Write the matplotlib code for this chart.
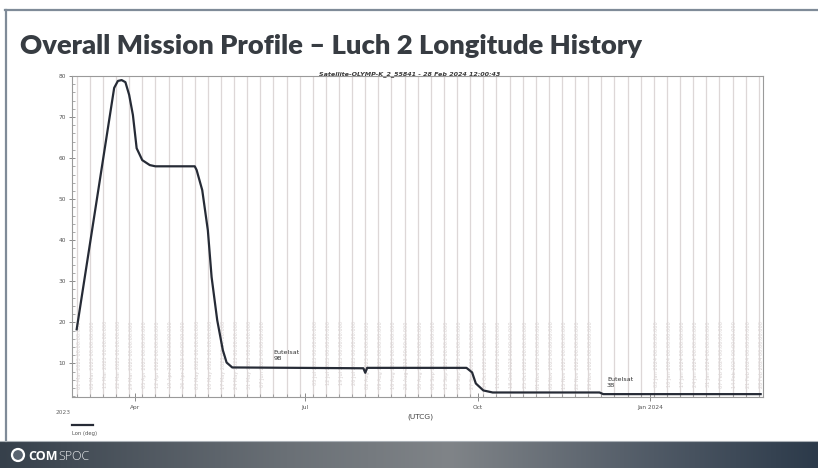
import datetime as dt
import numpy as np
import matplotlib
matplotlib.use("Agg")
import matplotlib.pyplot as plt
import matplotlib.dates as mdates
from matplotlib.lines import Line2D
from matplotlib.patches import Circle

# longitude history (deg East)
dates = ["2023-03-01", "2023-03-21", "2023-03-23", "2023-03-25", "2023-03-27",
         "2023-03-29", "2023-03-31", "2023-04-02", "2023-04-05", "2023-04-09",
         "2023-04-12", "2023-05-03", "2023-05-04", "2023-05-07", "2023-05-10",
         "2023-05-12", "2023-05-15", "2023-05-18", "2023-05-20", "2023-05-23",
         "2023-08-01", "2023-08-02", "2023-08-03", "2023-09-25", "2023-09-28",
         "2023-09-30", "2023-10-04", "2023-10-09", "2023-12-05", "2023-12-07",
         "2024-02-29"]
lon = [18.3, 77.1, 78.8, 79.0, 78.5,
       75.4, 70.5, 62.4, 59.5, 58.3,
       58.0, 58.0, 57.1, 52.2, 42.4,
       31.0, 20.5, 13.2, 10.2, 9.0,
       8.8, 7.7, 8.9, 8.9, 7.8,
       5.1, 3.4, 2.9, 2.9, 2.5,
       2.5]

quarter_ticks = ["2023-04-01", "2023-07-01", "2023-10-01", "2024-01-01"]
quarter_labels = ["Apr", "Jul", "Oct", "Jan 2024"]
y_ticks = [10, 20, 30, 40, 50, 60, 70, 80]

sat_labels = ["Eutelsat\n9B", "Eutelsat\n3B"]
sat_dates = ["2023-06-14", "2023-12-09"]
sat_lon = [10.5, 3.9]

title = "Overall Mission Profile \u2013 Luch 2 Longitude History"
subtitle = "Satellite-OLYMP-K_2_55841 - 28 Feb 2024 12:00:43"

W, H = 818, 468
def fx(px):
    return px / W
def fy(py):
    return 1 - py / H

todate = lambda s: dt.datetime.strptime(s, "%Y-%m-%d")
x = [todate(d) for d in dates]

fig = plt.figure(figsize=(W / 100, H / 100), dpi=100)
fig.patch.set_facecolor("white")

# slide frame
fig.add_artist(Line2D([fx(5), fx(818)], [fy(10), fy(10)], color="#7f8b98", lw=1.6))
fig.add_artist(Line2D([fx(6), fx(6)], [fy(10), fy(441)], color="#7f8b98", lw=1.6))

# title, fitted to the reference width
t = fig.text(fx(20), fy(54), title, fontsize=22, fontweight="heavy",
             family="Lato", color="#373c42", va="baseline", ha="left")
fig.canvas.draw()
wpx = t.get_window_extent().width
t.set_fontsize(22 * 622 / wpx)

fig.text(fx(410), fy(74), subtitle, fontsize=4.6, style="italic", fontweight="bold",
         color="#3a3a3a", ha="center", va="center")

# main axes
ax = fig.add_axes([fx(72), fy(397), fx(763 - 72), (397 - 76) / H])
ax.set_xlim(dt.datetime(2023, 2, 26, 12), dt.datetime(2024, 3, 1, 6))
ax.set_ylim(1.8, 80)

weeks = mdates.WeekdayLocator(byweekday=mdates.WE)
ax.xaxis.set_minor_locator(weeks)
ax.set_xticks([todate(d) for d in quarter_ticks])
ax.set_xticklabels(quarter_labels)
ax.grid(True, which="minor", axis="x", color="#ddd7d7", lw=0.9)

# faint rotated event text along each weekly grid line (skipped under the labels)
busy = [(todate(d) - dt.timedelta(days=4), todate(d) + dt.timedelta(days=18))
        for d in sat_dates]
wk = dt.datetime(2023, 3, 1)
while wk < dt.datetime(2024, 2, 29):
    if not any(a <= wk <= b for a, b in busy):
        ax.text(wk + dt.timedelta(hours=30), 20.3, wk.strftime("%d %b %Y 00:00:00.000"),
                rotation=90, fontsize=3.6, color="#d8d1d1", ha="center", va="top",
                zorder=1)
    wk += dt.timedelta(days=7)

ax.plot(x, lon, color="#262b36", lw=1.6, zorder=3)

for lab, d, v in zip(sat_labels, sat_dates, sat_lon):
    ax.text(todate(d), v, lab, fontsize=4.6, color="#333333", ha="left", va="bottom",
            linespacing=1.25, zorder=4)

ax.set_yticks(y_ticks)
ax.yaxis.set_minor_locator(matplotlib.ticker.MultipleLocator(2))
ax.tick_params(axis="y", which="major", direction="inout", length=5, width=0.6,
               labelsize=4.2, labelcolor="#555555", color="#777777", pad=2)
ax.tick_params(axis="y", which="minor", direction="in", length=2.5, width=0.5,
               color="#888888")
ax.tick_params(axis="x", which="major", direction="inout", length=6, width=0.6,
               labelsize=4.2, labelcolor="#555555", color="#777777", pad=3)
ax.tick_params(axis="x", which="minor", direction="in", length=2.5, width=0.5,
               color="#888888")
for s in ax.spines.values():
    s.set_color("#9a9a9a")
    s.set_linewidth(0.8)

fig.text(fx(420), fy(417), "(UTCG)", fontsize=5.4, color="#444444", ha="center", va="center")
fig.text(fx(63), fy(413), "2023", fontsize=4.2, color="#666666", ha="center", va="center")
fig.add_artist(Line2D([fx(72), fx(93)], [fy(425), fy(425)], color="#262b36", lw=1.6))
fig.text(fx(72), fy(433), "Lon (deg)", fontsize=3.8, color="#555555", ha="left", va="center")

# bottom banner with gradient
bax = fig.add_axes([0, 0, 1, 27 / H])
bax.set_axis_off()
gx = np.linspace(0, 1, 400)
stops = [0, 0.35, 0.55, 0.8, 1]
cols = np.array([[0x36, 0x40, 0x4b], [0x6a, 0x70, 0x76], [0x80, 0x84, 0x88],
                 [0x50, 0x5a, 0x66], [0x2c, 0x3a, 0x4a]]) / 255
grad = np.stack([np.interp(gx, stops, cols[:, i]) for i in range(3)], axis=-1)
bax.imshow(grad[None, :, :], aspect="auto", extent=[0, 1, 0, 1])
bax.set_xlim(0, 1)
bax.set_ylim(0, 1)
fig.add_artist(Line2D([0, 1], [27 / H, 27 / H], color="#aab0b6", lw=0.8))

# logo mark, drawn in inches so it stays round
fig.add_artist(Circle((0.18, (H - 455) / 100), 0.06, transform=fig.dpi_scale_trans,
                      facecolor="#5a6470", edgecolor="white", lw=1.6))
c = fig.text(fx(28), fy(456), "COM", fontsize=9, fontweight="bold", color="white",
             ha="left", va="center", family="Open Sans")
fig.canvas.draw()
ext = c.get_window_extent()
fig.text(ext.x1 / W + 0.001, fy(456), "SPOC", fontsize=9, fontweight="light",
         color="#e8eaec", ha="left", va="center", family="Open Sans")

fig.savefig("out.png", dpi=100)
